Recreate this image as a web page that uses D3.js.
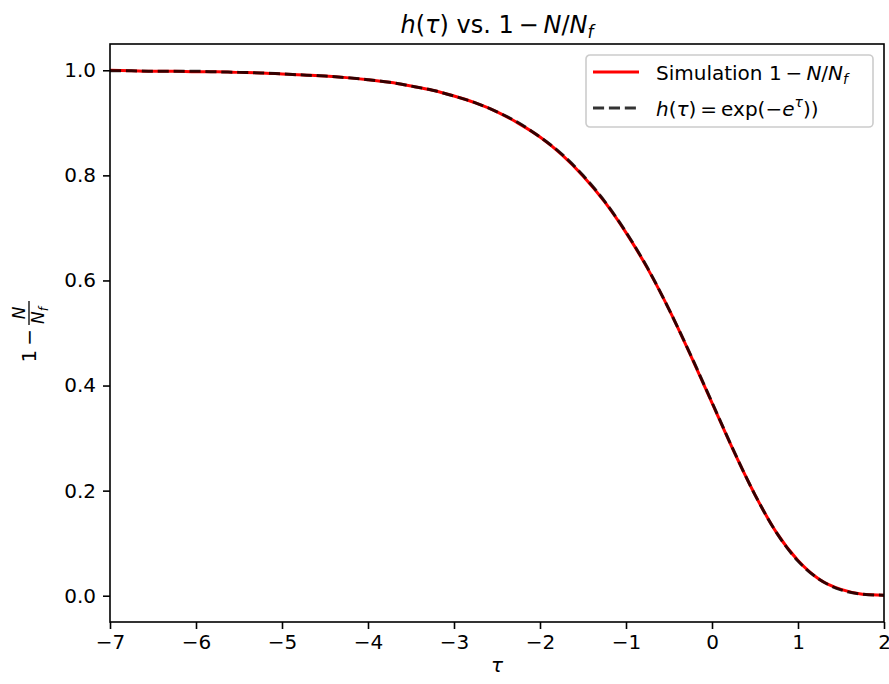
<!DOCTYPE html>
<html>
<head>
<meta charset="utf-8">
<script src="https://cdn.jsdelivr.net/npm/d3@7"></script>
<style>
  body { margin: 0; background: #fff; }
  svg text { font-family: "DejaVu Sans", sans-serif; }
</style>
</head>
<body>
<div id="chart"></div>
<script>
// tau grid and values
const tau = [-7, -6.75, -6.5, -6.25, -6, -5.75, -5.5, -5.25, -5, -4.75, -4.5, -4.25, -4, -3.75,
  -3.5, -3.25, -3, -2.75, -2.5, -2.25, -2, -1.75, -1.5, -1.25, -1, -0.75, -0.5, -0.25,
  0, 0.25, 0.5, 0.75, 1, 1.25, 1.5, 1.75, 2];
const simulation = [1.000, 0.999, 0.998, 0.998, 0.997, 0.997, 0.996, 0.995, 0.993, 0.991, 0.989, 0.986, 0.982, 0.977,
  0.970, 0.962, 0.951, 0.938, 0.921, 0.899, 0.873, 0.840, 0.799, 0.750, 0.691, 0.623, 0.545, 0.458,
  0.367, 0.276, 0.192, 0.120, 0.067, 0.031, 0.012, 0.003, 0.001];
const theory = [0.999, 0.999, 0.998, 0.998, 0.998, 0.997, 0.996, 0.995, 0.993, 0.991, 0.989, 0.986, 0.982, 0.977,
  0.970, 0.962, 0.951, 0.938, 0.921, 0.900, 0.873, 0.841, 0.800, 0.751, 0.692, 0.624, 0.545, 0.459,
  0.368, 0.277, 0.192, 0.120, 0.066, 0.031, 0.011, 0.003, 0.001];
const xTicks = [-7, -6, -5, -4, -3, -2, -1, 0, 1, 2];
const yTicks = [0.0, 0.2, 0.4, 0.6, 0.8, 1.0];

const W = 889, H = 684;
const margin = {top: 44, right: 5, bottom: 62, left: 110};
const width = W - margin.left - margin.right;
const height = H - margin.top - margin.bottom;

const svg = d3.select("#chart").append("svg")
    .attr("width", W)
    .attr("height", H);

const g = svg.append("g")
    .attr("transform", `translate(${margin.left},${margin.top})`);

const x = d3.scaleLinear().domain([-7, 2]).range([0, width]);
const y = d3.scaleLinear().domain([-0.05, 1.05]).range([height, 0]);

// axes
const xAxis = g.append("g")
    .attr("transform", `translate(0,${height})`)
    .call(d3.axisBottom(x).tickValues(xTicks).tickSize(7).tickPadding(6)
      .tickFormat(d => d < 0 ? "\u2212" + Math.abs(d) : d));
const yAxis = g.append("g")
    .call(d3.axisLeft(y).tickValues(yTicks).tickSize(7).tickPadding(7)
      .tickFormat(d3.format(".1f")));
[xAxis, yAxis].forEach(a => {
  a.select(".domain").remove();
  a.selectAll("line").attr("stroke", "#000").attr("stroke-width", 1.6);
  a.selectAll("text").attr("fill", "#000").style("font-size", "20px");
});

// lines
const pts = (vals) => tau.map((t, i) => [t, vals[i]]);
const line = d3.line().x(d => x(d[0])).y(d => y(d[1])).curve(d3.curveMonotoneX);

g.append("path")
    .attr("d", line(pts(simulation)))
    .attr("fill", "none")
    .attr("stroke", "#ff0000")
    .attr("stroke-width", 3);

g.append("path")
    .attr("d", line(pts(theory)))
    .attr("fill", "none")
    .attr("stroke", "#000")
    .attr("stroke-opacity", 0.8)
    .attr("stroke-width", 3)
    .attr("stroke-dasharray", "11.1,4.8");

// frame
g.append("rect")
    .attr("width", width).attr("height", height)
    .attr("fill", "none").attr("stroke", "#000").attr("stroke-width", 1.6);

// title
const title = svg.append("text")
    .attr("x", margin.left + width / 2).attr("y", 33)
    .attr("text-anchor", "middle")
    .style("font-size", "24px");
title.append("tspan").attr("font-style", "italic").text("h");
title.append("tspan").text("(");
title.append("tspan").attr("font-style", "italic").text("\u03c4");
title.append("tspan").text(") vs. 1\u2009\u2212\u2009");
title.append("tspan").attr("font-style", "italic").text("N");
title.append("tspan").text("/");
title.append("tspan").attr("font-style", "italic").text("N");
title.append("tspan").attr("font-style", "italic").attr("dy", 5).style("font-size", "17px").text("f");

// x label
svg.append("text")
    .attr("x", margin.left + width / 2).attr("y", 672)
    .attr("text-anchor", "middle")
    .attr("font-style", "italic")
    .style("font-size", "20px")
    .text("\u03c4");

// y label: 1 - N / N_f as fraction, rotated
const yl = svg.append("g").attr("transform", "translate(29,325) rotate(-90)");
yl.append("text")
    .attr("x", -4).attr("y", 7)
    .attr("text-anchor", "end")
    .style("font-size", "20px")
    .text("1\u2009\u2212");
yl.append("text")
    .attr("x", 12).attr("y", -4)
    .attr("text-anchor", "middle")
    .attr("font-style", "italic")
    .style("font-size", "17px")
    .text("N");
yl.append("line")
    .attr("x1", 0).attr("x2", 24).attr("y1", 0).attr("y2", 0)
    .attr("stroke", "#000").attr("stroke-width", 1.3);
const den = yl.append("text")
    .attr("x", 1).attr("y", 15)
    .attr("font-style", "italic")
    .style("font-size", "17px");
den.append("tspan").text("N");
den.append("tspan").attr("dy", 4).style("font-size", "12px").text("f");

// legend
const lg = svg.append("g").attr("transform", "translate(586,55)");
lg.append("rect")
    .attr("width", 287).attr("height", 72).attr("rx", 4)
    .attr("fill", "#fff").attr("fill-opacity", 0.8)
    .attr("stroke", "#ccc").attr("stroke-width", 1.6);
lg.append("line")
    .attr("x1", 7).attr("x2", 53).attr("y1", 17).attr("y2", 17)
    .attr("stroke", "#ff0000").attr("stroke-width", 3);
lg.append("line")
    .attr("x1", 7).attr("x2", 53).attr("y1", 53).attr("y2", 53)
    .attr("stroke", "#000").attr("stroke-opacity", 0.8).attr("stroke-width", 3)
    .attr("stroke-dasharray", "11.1,4.8");
const t1 = lg.append("text").attr("x", 70).attr("y", 25).style("font-size", "20px");
t1.append("tspan").text("Simulation 1\u2009\u2212\u2009");
t1.append("tspan").attr("font-style", "italic").text("N");
t1.append("tspan").text("/");
t1.append("tspan").attr("font-style", "italic").text("N");
t1.append("tspan").attr("font-style", "italic").attr("dy", 4).style("font-size", "14px").text("f");
const t2 = lg.append("text").attr("x", 70).attr("y", 61).style("font-size", "20px");
t2.append("tspan").attr("font-style", "italic").text("h");
t2.append("tspan").text("(");
t2.append("tspan").attr("font-style", "italic").text("\u03c4");
t2.append("tspan").text(")\u2009=\u2009exp(\u2212");
t2.append("tspan").attr("font-style", "italic").text("e");
t2.append("tspan").attr("font-style", "italic").attr("dy", -9).style("font-size", "14px").text("\u03c4");
t2.append("tspan").attr("dy", 9).text("))");
</script>
</body>
</html>
